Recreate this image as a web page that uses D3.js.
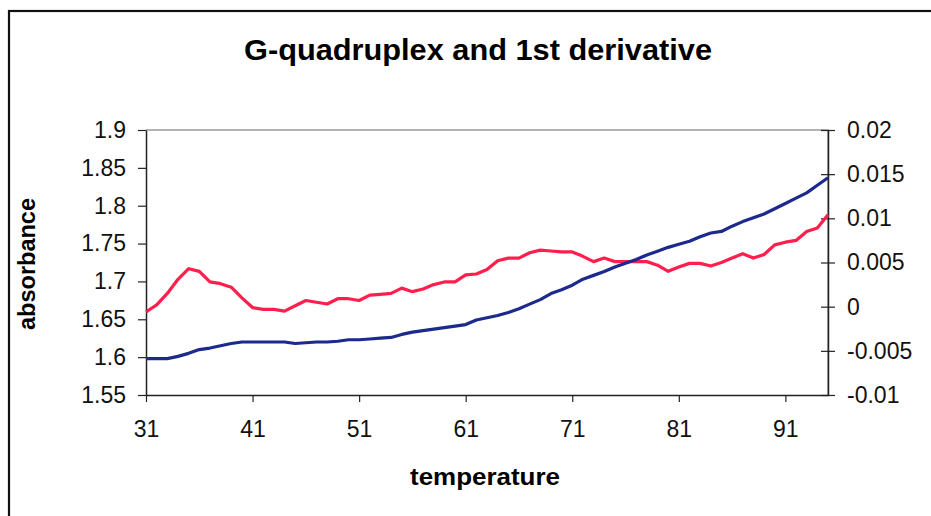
<!DOCTYPE html>
<html>
<head>
<meta charset="utf-8">
<script src="https://cdn.jsdelivr.net/npm/d3@7"></script>
<style>
  html, body { margin: 0; padding: 0; background: #fff; }
  svg { display: block; font-family: "Liberation Sans", Arial, sans-serif; }
</style>
</head>
<body>
<svg id="chart" width="931" height="516"></svg>
<script>
// Melting temperatures (°C), one reading per degree
const temperature = d3.range(31, 96);

// Absorbance of the G-quadruplex sample (left axis)
const absorbance = [
  1.598, 1.598, 1.598, 1.601, 1.605, 1.610, 1.612, 1.615, 1.618, 1.620,
  1.620, 1.620, 1.620, 1.620, 1.618, 1.619, 1.620, 1.620, 1.621, 1.623,
  1.623, 1.624, 1.625, 1.626, 1.630, 1.633, 1.635, 1.637, 1.639, 1.641,
  1.643, 1.649, 1.652, 1.655, 1.659, 1.664, 1.670, 1.676, 1.684, 1.689,
  1.695, 1.703, 1.708, 1.713, 1.719, 1.724, 1.729, 1.735, 1.740, 1.745,
  1.749, 1.753, 1.759, 1.764, 1.766, 1.773, 1.779, 1.784, 1.789, 1.796,
  1.803, 1.810, 1.817, 1.827, 1.837
];

// First derivative of absorbance (right axis)
const derivative = [
  -0.0006, 0.0002, 0.0015, 0.0031, 0.0043, 0.0040, 0.0028, 0.0026, 0.0022, 0.0010,
  -0.0001, -0.0003, -0.0003, -0.0005, 0.0001, 0.0007, 0.0005, 0.0003, 0.0009, 0.0009,
  0.0007, 0.0013, 0.0014, 0.0015, 0.0021, 0.0017, 0.0020, 0.0025, 0.0028, 0.0028,
  0.0036, 0.0037, 0.0042, 0.0052, 0.0055, 0.0055, 0.0061, 0.0064, 0.0063, 0.0062,
  0.0062, 0.0057, 0.0051, 0.0055, 0.0051, 0.0051, 0.0051, 0.0051, 0.0047, 0.0040,
  0.0045, 0.0049, 0.0049, 0.0046, 0.0050, 0.0055, 0.0060, 0.0055, 0.0059, 0.0070,
  0.0073, 0.0075, 0.0085, 0.0089, 0.0104
];

// Axis ticks and their labels
const xTicks = [31, 41, 51, 61, 71, 81, 91];
const leftTicks = [1.55, 1.6, 1.65, 1.7, 1.75, 1.8, 1.85, 1.9];
const leftTickLabels = ["1.55", "1.6", "1.65", "1.7", "1.75", "1.8", "1.85", "1.9"];
const rightTicks = [-0.01, -0.005, 0, 0.005, 0.01, 0.015, 0.02];
const rightTickLabels = ["-0.01", "-0.005", "0", "0.005", "0.01", "0.015", "0.02"];

const svg = d3.select("#chart");
const plot = { left: 146, right: 828, top: 130, bottom: 395 };

// Outer chart frame
svg.append("rect")
  .attr("x", 9).attr("y", 11).attr("width", 960).attr("height", 560)
  .attr("fill", "none").attr("stroke", "#111").attr("stroke-width", 2.2);

const x = d3.scaleLinear().domain([31, 95]).range([plot.left, plot.right]);
const yL = d3.scaleLinear().domain([1.55, 1.9]).range([plot.bottom, plot.top]);
const yR = d3.scaleLinear().domain([-0.01, 0.02]).range([plot.bottom, plot.top]);

// Plot area border (top and right)
svg.append("path")
  .attr("d", `M${plot.left},${plot.top}H${plot.right}V${plot.bottom}`)
  .attr("fill", "none").attr("stroke", "#9a9a9a").attr("stroke-width", 1.5);

const axisColor = "#222";
const tickFont = 23;

// Left axis
const gL = svg.append("g").attr("transform", `translate(${plot.left},0)`)
  .call(d3.axisLeft(yL).tickValues(leftTicks)
    .tickFormat((d, i) => leftTickLabels[i]).tickSize(8).tickSizeOuter(0).tickPadding(12));

// Right axis, ticks crossing the axis line
const gR = svg.append("g").attr("transform", `translate(${plot.right},0)`)
  .call(d3.axisRight(yR).tickValues(rightTicks)
    .tickFormat((d, i) => rightTickLabels[i]).tickSize(7).tickSizeOuter(0).tickPadding(12));
gR.selectAll(".tick line").attr("x1", -7);

// Bottom axis
const gB = svg.append("g").attr("transform", `translate(0,${plot.bottom})`)
  .call(d3.axisBottom(x).tickValues(xTicks).tickFormat(d3.format("d"))
    .tickSize(7).tickSizeOuter(0).tickPadding(19));

[gL, gR, gB].forEach(g => {
  g.select(".domain").attr("stroke", axisColor).attr("stroke-width", 1.5);
  g.selectAll(".tick line").attr("stroke", axisColor).attr("stroke-width", 1.2);
  g.selectAll(".tick text")
    .attr("font-family", "'Liberation Sans', Arial, sans-serif")
    .attr("font-size", tickFont).attr("fill", "#111");
});

// Series lines
const absLine = d3.line().x((d, i) => x(temperature[i])).y(d => yL(d));
const derLine = d3.line().x((d, i) => x(temperature[i])).y(d => yR(d));

svg.append("path").datum(derivative)
  .attr("d", derLine).attr("fill", "none")
  .attr("stroke", "#ff1f4d").attr("stroke-width", 3.2).attr("stroke-linejoin", "round");

svg.append("path").datum(absorbance)
  .attr("d", absLine).attr("fill", "none")
  .attr("stroke", "#1b2a8c").attr("stroke-width", 3.2).attr("stroke-linejoin", "round");

// Titles
svg.append("text")
  .attr("x", 478).attr("y", 60).attr("text-anchor", "middle")
  .attr("font-size", 30).attr("font-weight", "bold")
  .attr("textLength", 468).attr("lengthAdjust", "spacingAndGlyphs")
  .text("G-quadruplex and 1st derivative");

svg.append("text")
  .attr("transform", "translate(35,264) rotate(-90)")
  .attr("text-anchor", "middle")
  .attr("font-size", 24).attr("font-weight", "bold")
  .attr("textLength", 132).attr("lengthAdjust", "spacingAndGlyphs")
  .text("absorbance");

svg.append("text")
  .attr("x", 485).attr("y", 485).attr("text-anchor", "middle")
  .attr("font-size", 24).attr("font-weight", "bold")
  .attr("textLength", 150).attr("lengthAdjust", "spacingAndGlyphs")
  .text("temperature");
</script>
</body>
</html>
